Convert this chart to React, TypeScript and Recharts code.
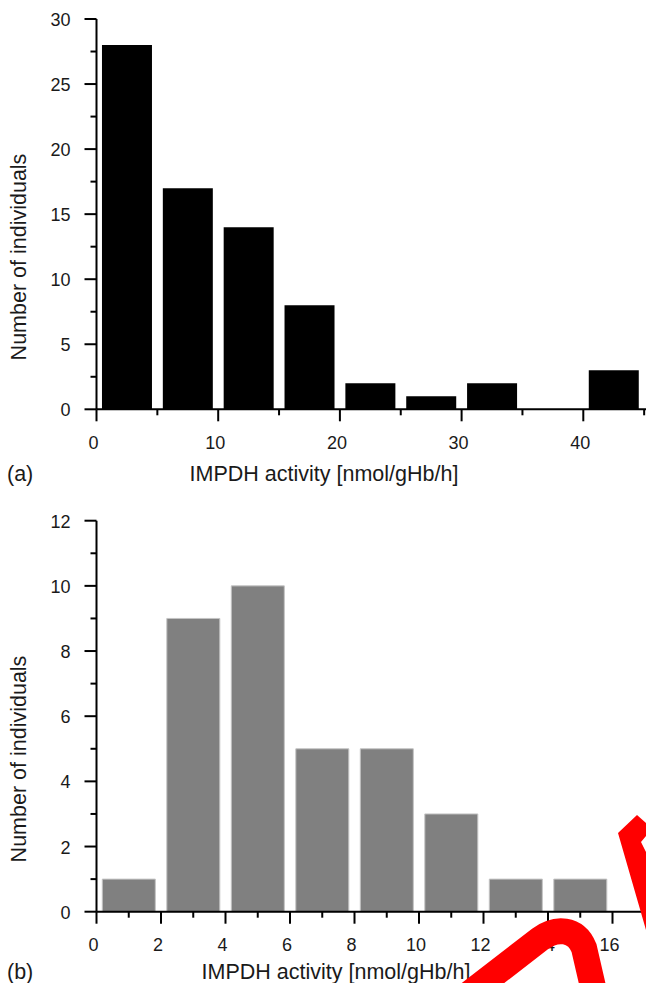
import React from "react";
import { BarChart, Bar, XAxis, YAxis } from "recharts";

const FONT = "'Liberation Sans', Arial, Helvetica, sans-serif";

// panel (a): 5-unit bins
const binsA = [2.5, 7.5, 12.5, 17.5, 22.5, 27.5, 32.5, 37.5, 42.5];
const countsA = [28, 17, 14, 8, 2, 1, 2, 0, 3];
const xTicksA = [0, 5, 10, 15, 20, 25, 30, 35, 40, 45];
const yTicksA = [0, 2.5, 5, 7.5, 10, 12.5, 15, 17.5, 20, 22.5, 25, 27.5, 30];

// panel (b): 2-unit bins
const binsB = [1, 3, 5, 7, 9, 11, 13, 15];
const countsB = [1, 9, 10, 5, 5, 3, 1, 1];
const xTicksB = [0, 1, 2, 3, 4, 5, 6, 7, 8, 9, 10, 11, 12, 13, 14, 15, 16, 17];
const yTicksB = [0, 1, 2, 3, 4, 5, 6, 7, 8, 9, 10, 11, 12];

const X_TITLE = "IMPDH activity [nmol/gHb/h]";
const Y_TITLE = "Number of individuals";

const dataA = binsA.map((mid, i) => ({ mid, count: countsA[i] }));
const dataB = binsB.map((mid, i) => ({ mid, count: countsB[i] }));

const isMajor = (v: number, step: number) =>
  Math.abs(v / step - Math.round(v / step)) < 1e-6;

function XTick(props: any) {
  const { x, y, payload, step } = props;
  const big = isMajor(payload.value, step);
  return (
    <g>
      <line x1={x} x2={x} y1={y} y2={y + (big ? 12 : 6)} stroke="#000" strokeWidth={2} />
      {big && (
        <text x={x - 3} y={y + 39.5} textAnchor="middle" fontSize={18} fontFamily={FONT} fill="#1a1a1a">
          {payload.value}
        </text>
      )}
    </g>
  );
}

function YTick(props: any) {
  const { x, y, payload, step } = props;
  const big = isMajor(payload.value, step);
  return (
    <g>
      <line x1={x - (big ? 12 : 6)} x2={x} y1={y} y2={y} stroke="#000" strokeWidth={2} />
      {big && (
        <text x={x - 26} y={y + 7} textAnchor="end" fontSize={18} fontFamily={FONT} fill="#1a1a1a">
          {payload.value}
        </text>
      )}
    </g>
  );
}

const titleStyle = { fontSize: 21.5, fontFamily: FONT, fill: "#1a1a1a" };

function Panel({ data, xTicks, yTicks, xMax, yMax, xStep, yStep, fill, stroke, width, height, top, plotBottom, tag, titleX, titleY, yTitleY }: any) {
  return (
    <BarChart
      width={width}
      height={height}
      data={data}
      margin={{ top, right: 0, bottom: 0, left: 0 }}
      barCategoryGap="9%"
    >
      <XAxis
        type="number"
        dataKey="mid"
        domain={[0, xMax]}
        ticks={xTicks}
        interval={0}
        height={height - plotBottom}
        tickSize={0}
        tickMargin={0}
        tickLine={false}
        axisLine={{ stroke: "#000", strokeWidth: 2 }}
        tick={(p: any) => <XTick {...p} step={xStep} />}
        label={() => (
          <g>
            <text x={7} y={titleY} {...titleStyle}>{tag}</text>
            <text x={titleX} y={titleY} textAnchor="middle" {...titleStyle}>{X_TITLE}</text>
          </g>
        )}
      />
      <YAxis
        type="number"
        domain={[0, yMax]}
        ticks={yTicks}
        interval={0}
        width={96.5}
        tickSize={0}
        tickMargin={0}
        tickLine={false}
        axisLine={{ stroke: "#000", strokeWidth: 2 }}
        tick={(p: any) => <YTick {...p} step={yStep} />}
        label={() => (
          <text
            x={26}
            y={yTitleY}
            textAnchor="middle"
            transform={`rotate(-90, 26, ${yTitleY})`}
            {...titleStyle}
          >
            {Y_TITLE}
          </text>
        )}
      />
      <Bar dataKey="count" fill={fill} stroke={stroke} strokeWidth={stroke ? 1 : 0} isAnimationActive={false} />
    </BarChart>
  );
}

export default function App() {
  return (
    <div
      style={{
        position: "absolute",
        left: 0,
        top: 0,
        width: 646,
        height: 983,
        overflow: "hidden",
        background: "#fff",
      }}
    >
      <div style={{ position: "absolute", left: 0, top: 0 }}>
        <Panel
          data={dataA}
          xTicks={xTicksA}
          yTicks={yTicksA}
          xMax={50}
          yMax={30}
          xStep={10}
          yStep={5}
          fill="#000"
          width={705}
          height={495}
          top={19}
          plotBottom={409.3}
          tag="(a)"
          titleX={324}
          titleY={481}
          yTitleY={257}
        />
      </div>
      <div style={{ position: "absolute", left: 0, top: 500 }}>
        <Panel
          data={dataB}
          xTicks={xTicksB}
          yTicks={yTicksB}
          xMax={18}
          yMax={12}
          xStep={2}
          yStep={2}
          fill="#808080"
          stroke="#c4c4c4"
          width={677}
          height={483}
          top={20.7}
          plotBottom={411.7}
          tag="(b)"
          titleX={336}
          titleY={479}
          yTitleY={259}
        />
      </div>
      {/* red pen marks drawn over the lower panel in the scan */}
      <svg
        width={646}
        height={983}
        style={{ position: "absolute", left: 0, top: 0, pointerEvents: "none" }}
      >
        <path
          d="M 461 1000 L 540 939 C 556 927, 576 928, 584 948 L 596 1000"
          fill="none"
          stroke="#ff0000"
          strokeWidth={26}
        />
        <polygon points="618,833 637,815 646,823 646,836 641,842 646,852 646,930" fill="#ff0000" />
      </svg>
    </div>
  );
}
